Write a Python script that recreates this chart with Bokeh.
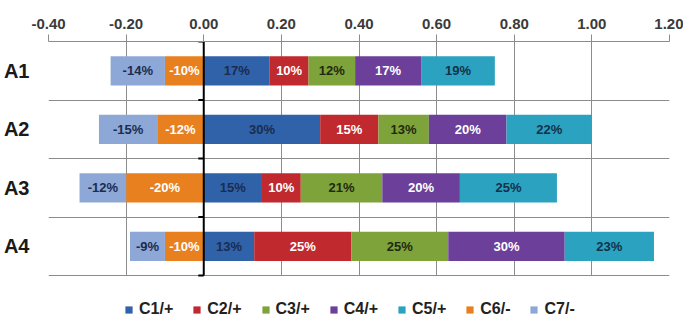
from bokeh.plotting import figure
from bokeh.models import Range1d, FixedTicker, NumeralTickFormatter, Legend, LegendItem, ColumnDataSource
from bokeh.core.properties import value
from bokeh.embed import file_html
from bokeh.resources import INLINE

categories = ["A1", "A2", "A3", "A4"]
series_names = ["C1/+", "C2/+", "C3/+", "C4/+", "C5/+", "C6/-", "C7/-"]
c1 = [0.17, 0.30, 0.15, 0.13]
c2 = [0.10, 0.15, 0.10, 0.25]
c3 = [0.12, 0.13, 0.21, 0.25]
c4 = [0.17, 0.20, 0.20, 0.30]
c5 = [0.19, 0.22, 0.25, 0.23]
c6 = [-0.10, -0.12, -0.20, -0.10]
c7 = [-0.14, -0.15, -0.12, -0.09]
x_ticks = [-0.40, -0.20, 0.00, 0.20, 0.40, 0.60, 0.80, 1.00, 1.20]

colors = ["#2F62A8", "#C0292E", "#7EA33A", "#6B3F9A", "#2BA2BF", "#E8801F", "#8DA8D6"]
text_colors = ["#1B2C50", "#FFFFFF", "#1F2A10", "#FFFFFF", "#14314A", "#FFFFFF", "#1B2C50"]
series = [c1, c2, c3, c4, c5, c6, c7]

FONT = "Liberation Sans"
GRID = "#8C8C8C"
n = len(categories)
ypos = [n - i - 0.5 for i in range(n)]
LEGEND_ROOM = 0.75  # extra room under the bars (in band units) that holds the legend

p = figure(width=683, height=319, output_backend="svg", toolbar_location=None,
           x_range=Range1d(x_ticks[0], x_ticks[-1]), y_range=Range1d(-LEGEND_ROOM, n),
           x_axis_location="above",
           min_border_left=48, min_border_right=14, min_border_top=41, min_border_bottom=0)
p.background_fill_color = "white"
p.border_fill_color = "white"
p.outline_line_color = None

p.xgrid.ticker = FixedTicker(ticks=x_ticks)
p.xgrid.grid_line_color = GRID
p.xgrid.cross_bounds = (0, n)
p.ygrid.ticker = FixedTicker(ticks=list(range(n + 1)))
p.ygrid.grid_line_color = GRID

p.xaxis.ticker = FixedTicker(ticks=x_ticks)
p.xaxis.formatter = NumeralTickFormatter(format="0.00")
p.xaxis.major_label_text_font = FONT
p.xaxis.major_label_text_font_style = "bold"
p.xaxis.major_label_text_font_size = "15px"
p.xaxis.major_label_text_color = "#3A3A3A"
p.xaxis.axis_line_color = GRID
p.xaxis.major_tick_line_color = GRID
p.xaxis.major_tick_in = 0
p.xaxis.major_tick_out = 7
p.xaxis.minor_tick_line_color = None
p.xaxis.major_label_standoff = 6

p.yaxis.ticker = FixedTicker(ticks=ypos)
p.yaxis.major_label_overrides = {float(y): c for y, c in zip(ypos, categories)}
p.yaxis.major_label_text_font = FONT
p.yaxis.major_label_text_font_style = "bold"
p.yaxis.major_label_text_font_size = "20px"
p.yaxis.major_label_text_color = "#1A1A1A"
p.yaxis.axis_line_color = None
p.yaxis.major_tick_line_color = None
p.yaxis.minor_tick_line_color = None
p.yaxis.major_label_standoff = 13

renderers = []
pos_base = [0.0] * n
neg_base = [0.0] * n
for vals, col, tcol in zip(series, colors, text_colors):
    left, right = [], []
    for i, v in enumerate(vals):
        if v >= 0:
            left.append(pos_base[i]); right.append(pos_base[i] + v); pos_base[i] += v
        else:
            right.append(neg_base[i]); left.append(neg_base[i] + v); neg_base[i] += v
    src = ColumnDataSource(dict(
        y=ypos, left=left, right=right,
        mid=[(a + b) / 2 for a, b in zip(left, right)],
        label=[f"{round(v * 100):d}%" for v in vals],
        tc=[tcol] * n))
    r = p.hbar(y="y", left="left", right="right", height=0.5, source=src,
               fill_color=col, line_color=None)
    renderers.append(r)
    p.text(x="mid", y="y", text="label", source=src, text_align="center",
           text_baseline="middle", text_color="tc",
           text_font=value(FONT), text_font_style="bold", text_font_size="13px")

# zero line with small ticks at the band boundaries
p.segment(x0=[0.0], x1=[0.0], y0=[0], y1=[n], line_color="black", line_width=2)
p.segment(x0=[0.0] * (n + 1), x1=[-0.014] * (n + 1), y0=list(range(n + 1)), y1=list(range(n + 1)),
          line_color="black", line_width=2)

legend = Legend(items=[LegendItem(label=nm, renderers=[r]) for nm, r in zip(series_names, renderers)],
                orientation="horizontal", location=(76, 1))
legend.label_text_font = FONT
legend.label_text_font_size = "16px"
legend.label_text_font_style = "bold"
legend.label_text_color = "#222222"
legend.glyph_width = 9
legend.glyph_height = 9
legend.label_standoff = 6
legend.spacing = 19
legend.padding = 2
legend.margin = 0
legend.border_line_color = None
legend.background_fill_alpha = 0
p.add_layout(legend)

open("out.html", "w").write(file_html(p, INLINE))
